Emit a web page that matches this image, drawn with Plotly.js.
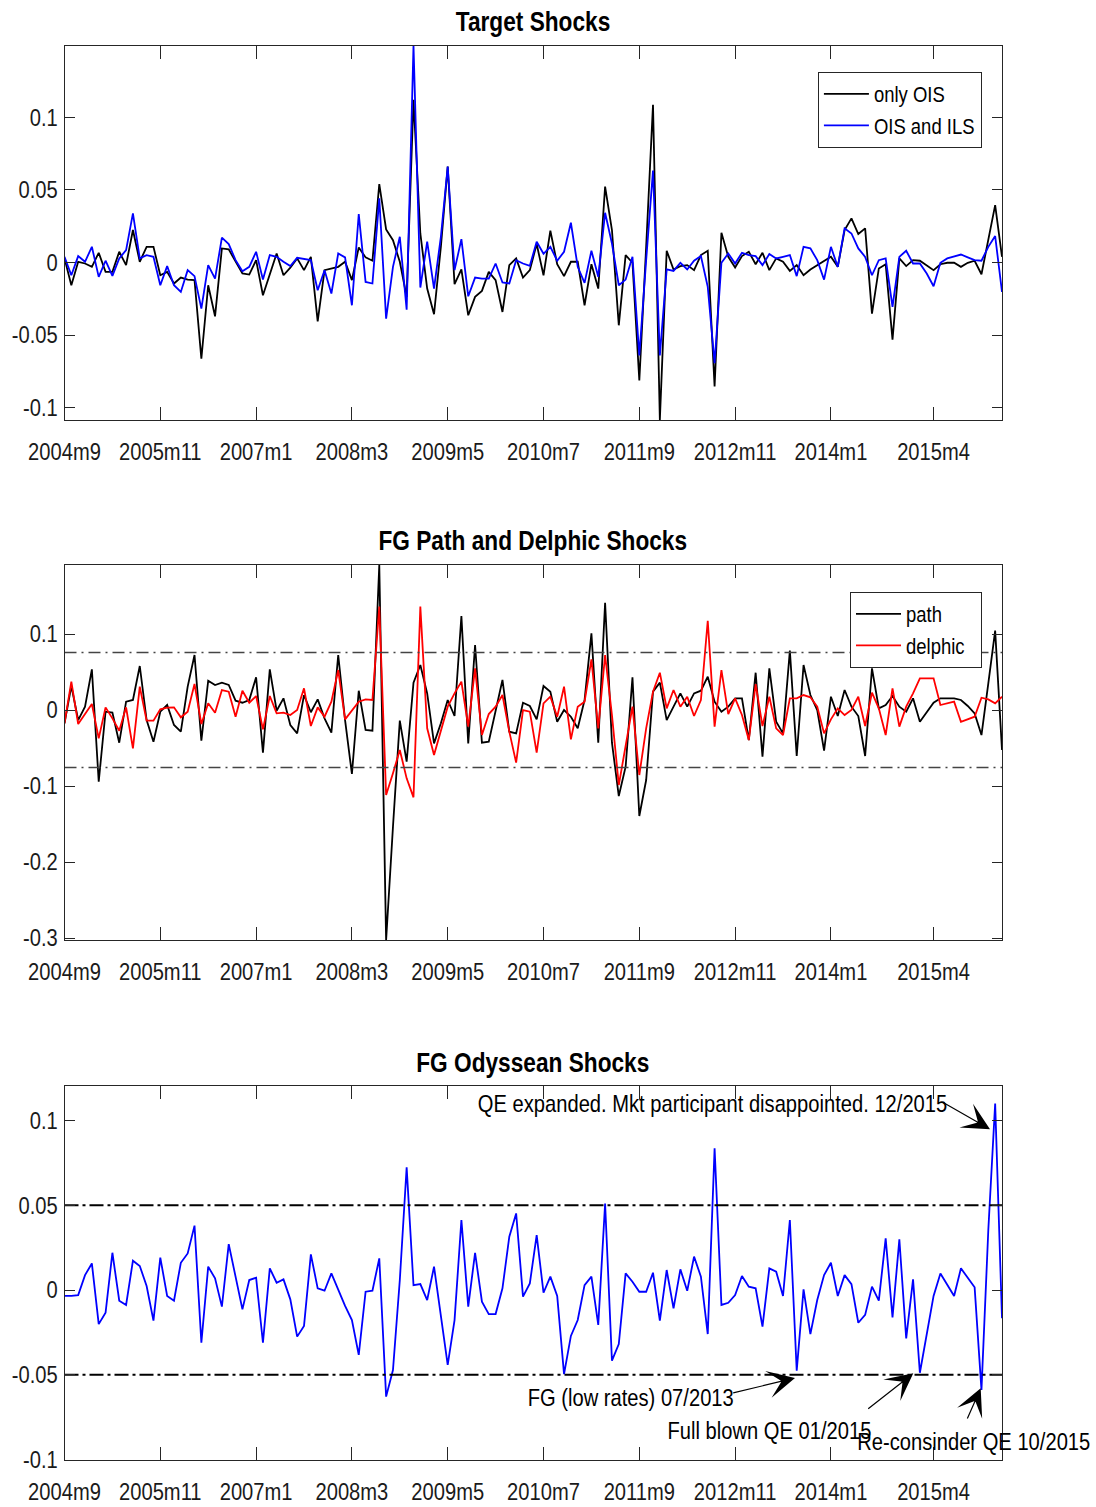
<!DOCTYPE html>
<html>
<head>
<meta charset="utf-8">
<script src="https://cdn.plot.ly/plotly-3.0.1.min.js"></script>
<style>
html,body{margin:0;padding:0;background:#fff;}
#chart{width:1096px;height:1507px;}
</style>
</head>
<body>
<div id="chart"></div>
<script>
// ---- x axis: observation index (ECB meetings) ----
const tickIndex = [1, 15, 29, 43, 57, 71, 85, 99, 113, 128];
const tickLabels = ['2004m9','2005m11','2007m1','2008m3','2009m5','2010m7','2011m9','2012m11','2014m1','2015m4'];
const nObs = 138;

// ---- Panel 1: Target shocks ----
const onlyOIS = [0.0028,-0.0157,0.0005,-0.0007,-0.003,0.0067,-0.0065,-0.0065,0.0074,-0.0018,
0.0224,0.0005,0.0108,0.0108,-0.0088,-0.0065,-0.0145,-0.0104,-0.0118,-0.0122,
-0.0664,-0.0157,-0.0371,0.0097,0.009,0.0005,-0.0076,-0.0083,0.0016,-0.0226,
-0.0076,0.0062,-0.0088,-0.0035,0.0028,-0.0053,0.0039,-0.0406,-0.0053,-0.0041,
-0.003,0.0005,-0.0122,0.0104,0.0035,0.0012,0.0541,0.0228,0.0154,0.0005,
-0.0237,0.1122,0.02,-0.018,-0.0357,0.0108,0.0661,-0.015,-0.0048,-0.0364,
-0.0237,-0.0196,-0.0065,-0.0122,-0.0341,-0.0018,0.0028,-0.0104,-0.0053,0.0127,
-0.0088,0.0219,-0.0012,-0.0094,0.0005,0.0005,-0.0295,-0.0012,-0.018,0.0523,
0.0224,-0.0433,0.0051,-0.0002,-0.0813,0.0108,0.1088,-0.1086,0.0081,-0.0048,
-0.0025,-0.0018,-0.0053,0.0051,0.0081,-0.0855,0.0205,0.0039,-0.0035,0.0044,
0.0074,-0.0012,0.0067,-0.0053,0.0028,0.0005,-0.0058,-0.0018,-0.0088,-0.0048,
-0.0018,0.0012,0.0039,-0.003,0.0224,0.0304,0.0196,0.0235,-0.0353,-0.0041,
-0.0012,-0.0532,0.0028,-0.0025,0.0016,0.0012,-0.0018,-0.0053,-0.0012,-0.0002,
-0.0002,-0.003,-0.0002,0.0012,-0.0081,0.0154,0.0396,0.0039];

const oisAndILS = [0.0039,-0.0088,0.0044,0.0005,0.0108,-0.0099,0.0012,-0.0092,0.0028,0.0085,
0.0339,0.0028,0.0051,0.0039,-0.0157,-0.0025,-0.0157,-0.0203,-0.0053,-0.0094,
-0.0318,-0.0018,-0.0111,0.0171,0.0127,0.0016,-0.006,-0.003,0.0074,-0.0118,
0.0051,0.0039,0.0005,-0.0025,0.0032,0.0023,0.0016,-0.0191,-0.0053,-0.0214,
0.0062,0.0035,-0.0295,0.0334,-0.0134,-0.0145,0.0442,-0.0387,-0.003,0.0177,
-0.0325,0.1496,-0.0173,0.0143,-0.018,0.0177,0.0661,-0.0053,0.0161,-0.0233,
-0.0104,-0.0111,-0.0111,-0.0007,-0.0138,-0.0145,0.0016,-0.0007,-0.0023,0.0143,
0.006,0.0108,0.0012,0.0074,0.0274,-0.003,-0.0141,0.0081,-0.0099,0.0343,
0.0131,-0.0157,-0.0118,0.0039,-0.0641,0.0016,0.0634,-0.0641,-0.0048,-0.0058,
-0.0002,-0.0048,0.0012,0.0044,-0.0168,-0.0694,-0.0002,0.0062,-0.0007,0.0067,
0.0051,0.0044,-0.0018,0.0058,0.0028,0.0039,0.0051,-0.0094,0.0108,0.0097,
0.0016,-0.0118,0.0108,-0.003,0.0235,0.02,0.0097,0.0039,-0.0088,0.0016,
0.0028,-0.0306,0.0039,0.0081,-0.0007,-0.0007,-0.0076,-0.0164,-0.0002,0.0028,
0.0044,0.0055,0.0035,0.0016,0.0012,0.0108,0.0182,-0.0203];

// ---- Panel 2: FG path and Delphic shocks ----
const pathShock = [-0.0175,0.0316,-0.0132,0.0044,0.0535,-0.0943,-0.0022,-0.0035,-0.043,0.011,
0.0132,0.0579,-0.0132,-0.0417,-0.0022,0.0066,-0.0197,-0.0285,0.0307,0.0724,
-0.0404,0.0386,0.0329,0.036,0.0329,0.0123,0.0096,0.0132,0.043,-0.0561,
0.0535,-0.0009,0.0154,-0.0197,-0.0307,0.0197,-0.003,0.014,-0.011,-0.0298,
0.0724,-0.0132,-0.0842,0.0254,-0.0263,-0.0272,0.1908,-0.3026,-0.1535,-0.014,
-0.068,0.036,0.0592,0.0219,-0.0439,-0.0175,0.0132,-0.0079,0.1237,-0.0439,
0.0855,-0.043,-0.0417,-0.0022,0.0395,-0.0285,-0.0307,0.0096,0.0053,-0.0123,
0.0316,0.0241,-0.0154,0,-0.0088,-0.0241,0.0132,0.1009,-0.043,0.1412,
-0.043,-0.1132,-0.0746,0.043,-0.1395,-0.0921,0.0241,0.036,-0.0132,0.0044,
0.0219,0.0044,0.0219,0.0254,0.0439,0.011,-0.0022,0.0044,0.0154,0.0154,
-0.0395,0.0491,-0.0614,0.0548,-0.0154,-0.0307,0.0781,-0.0605,0.0592,0.0197,
0,-0.0535,0.0175,-0.0079,0.0263,0.0044,-0.0079,-0.0605,0.0548,0.0022,
0.0066,0.0184,0.0044,-0.0022,0.0154,-0.0154,-0.0022,0.0096,0.0154,0.0154,
0.0154,0.0132,0.0053,-0.0044,-0.0329,0.0351,0.1044,-0.0526];

const delphicShock = [-0.0175,0.0373,-0.0184,-0.0053,0.0079,-0.0373,0.0035,-0.011,-0.0272,0.0035,
-0.0504,0.0307,-0.014,-0.014,0.0009,0.0031,0.0035,-0.0096,-0.0022,0.0342,
-0.0184,0.0088,-0.0035,0.0263,0.0241,-0.0088,0.0254,0.0096,0.0184,-0.0254,
0.0184,-0.0044,-0.0035,-0.0066,0,0.0285,-0.021,0.0035,-0.0088,0.011,
0.0526,-0.0123,0,0.011,0.014,0.0132,0.136,-0.1118,-0.0833,-0.0526,
-0.0899,-0.1149,0.136,-0.0241,-0.0592,-0.0285,0.0044,0.0219,0.0373,-0.0219,
0.0548,-0.0329,-0.0053,0.0044,0.0197,-0.0285,-0.0693,0,-0.0022,-0.0561,
0.0088,0.0175,-0.0088,0.0307,-0.0386,0.0044,0.011,0.0667,-0.0241,0.0724,
-0.0066,-0.0987,-0.0482,0.0044,-0.0855,-0.0241,0.0241,0.0491,0.0022,0.0263,
0.0044,0.0175,-0.0079,0.0132,0.1175,-0.0219,0.0526,-0.0053,0.0154,-0.0066,
-0.0395,0.0342,-0.0211,0.0175,-0.0241,-0.0329,0.0154,0.0154,0.0197,0.0167,
0.0044,-0.0307,-0.0123,0.0022,-0.0066,0,0.0175,-0.0211,0.0228,0.0022,
-0.0329,0.0285,-0.0219,0.0044,0.0219,0.0417,0.0417,0.0417,0.0066,0.0088,
0.011,-0.0154,-0.0123,-0.0088,0.0162,0.014,0.0088,0.0175];
const bandFG = 0.0757;

// ---- Panel 3: FG Odyssean shocks ----
const odysseanShock = [-0.0035,-0.0035,-0.003,0.0088,0.0157,-0.0201,-0.0134,0.022,-0.0063,-0.0088,
0.0173,0.0142,0.0024,-0.0181,0.0191,-0.0035,-0.0063,0.0161,0.0216,0.038,
-0.0311,0.0138,0.0069,-0.0098,0.0271,0.0079,-0.0114,0.0059,0.0073,-0.0311,
0.0128,0.0043,0.0063,-0.0055,-0.0275,-0.0212,0.021,0.001,-0.0004,0.0098,
0,-0.0094,-0.0177,-0.0383,-0.001,-0.0004,0.0187,-0.0629,-0.0472,0.0059,
0.0724,0.0029,0.0035,-0.0059,0.0138,-0.0138,-0.0442,-0.0177,0.0413,-0.0098,
0.022,-0.0069,-0.0142,-0.0142,0.001,0.0315,0.0452,-0.0039,0.0039,0.0324,
-0.0016,0.0079,-0.0035,-0.0496,-0.0271,-0.0177,0.0029,0.0079,-0.0206,0.0511,
-0.0417,-0.0319,0.0098,0.0049,-0.001,-0.001,0.0102,-0.0181,0.0118,-0.0108,
0.0122,-0.0004,0.0197,0.0079,-0.026,0.0836,-0.0088,-0.0075,-0.003,0.0083,
0.002,0.001,-0.0216,0.0128,0.0108,-0.0035,0.0413,-0.0476,0.0004,-0.026,
-0.0059,0.0088,0.0161,-0.0035,0.0088,0.0035,-0.0193,-0.0147,0.002,-0.0063,
0.0305,-0.0161,0.0299,-0.0285,0.0063,-0.0488,-0.0265,-0.0035,0.0098,0.0029,
-0.0035,0.0128,0.0069,0.0016,-0.059,0.0354,0.1101,-0.0167];
const bandOdy = 0.05;

const yTicks1 = [-0.1,-0.05,0,0.05,0.1], yText1 = ['-0.1','-0.05','0','0.05','0.1'];
const yTicks2 = [-0.3,-0.2,-0.1,0,0.1], yText2 = ['-0.3','-0.2','-0.1','0','0.1'];
const yTicks3 = [-0.1,-0.05,0,0.05,0.1], yText3 = ['-0.1','-0.05','0','0.05','0.1'];

const panelTitles = ['Target Shocks','FG Path and Delphic Shocks','FG Odyssean Shocks'];
const noteTexts = ['QE expanded. Mkt participant disappointed. 12/2015','FG (low rates) 07/2013','Full blown QE 01/2015','Re-consinder QE 10/2015'];

// ---- build ----
const obs = Array.from({length:nObs},(_,i)=>i+1);
const F = '"Liberation Sans", Arial, Helvetica, sans-serif';
const NARROW = 0.84;  // horizontal condensing of text (narrow face look)
const AX = '#262626';
const W = 1096, H = 1507;
const px = v => v / W, py = v => 1 - v / H;
const xDom = [px(64.5), px(1002)];

function xAxis(anchor){
  return {domain:xDom, anchor:anchor, range:[1,nObs], tickmode:'array', tickvals:tickIndex, ticktext:tickLabels,
    tickangle:0, ticks:'inside', ticklen:13, tickwidth:1, tickcolor:AX, showline:true, linecolor:AX, linewidth:1,
    mirror:'ticks', showgrid:false, zeroline:false, ticklabelstandoff:10,
    tickfont:{family:F,size:24,color:'#1a1a1a'}};
}
function yAxis(anchor, dom, rng, tv, tt){
  return {domain:dom, anchor:anchor, range:rng, tickmode:'array', tickvals:tv, ticktext:tt,
    ticks:'inside', ticklen:10, tickwidth:1, tickcolor:AX, showline:true, linecolor:AX, linewidth:1,
    mirror:'ticks', showgrid:false, zeroline:false, ticklabelstandoff:1,
    tickfont:{family:F,size:24,color:'#1a1a1a'}};
}

const traces = [
  {x:obs, y:onlyOIS, type:'scatter', mode:'lines', name:'only OIS', line:{color:'#000000',width:1.8}, xaxis:'x', yaxis:'y', legend:'legend'},
  {x:obs, y:oisAndILS, type:'scatter', mode:'lines', name:'OIS and ILS', line:{color:'#0000ff',width:1.8}, xaxis:'x', yaxis:'y', legend:'legend'},
  {x:obs, y:pathShock, type:'scatter', mode:'lines', name:'path', line:{color:'#000000',width:1.8}, xaxis:'x2', yaxis:'y2', legend:'legend2'},
  {x:obs, y:delphicShock, type:'scatter', mode:'lines', name:'delphic', line:{color:'#ff0000',width:1.8}, xaxis:'x2', yaxis:'y2', legend:'legend2'},
  {x:[1,nObs], y:[bandFG,bandFG], type:'scatter', mode:'lines', showlegend:false, hoverinfo:'skip', line:{color:'#444444',width:1.5,dash:'12px,5px,2px,5px'}, xaxis:'x2', yaxis:'y2'},
  {x:[1,nObs], y:[-bandFG,-bandFG], type:'scatter', mode:'lines', showlegend:false, hoverinfo:'skip', line:{color:'#444444',width:1.5,dash:'12px,5px,2px,5px'}, xaxis:'x2', yaxis:'y2'},
  {x:obs, y:odysseanShock, type:'scatter', mode:'lines', showlegend:false, line:{color:'#0000ff',width:1.8}, xaxis:'x3', yaxis:'y3'},
  {x:[1,nObs], y:[bandOdy,bandOdy], type:'scatter', mode:'lines', showlegend:false, hoverinfo:'skip', line:{color:'#000000',width:2,dash:'14px,4px,3px,4px'}, xaxis:'x3', yaxis:'y3'},
  {x:[1,nObs], y:[-bandOdy,-bandOdy], type:'scatter', mode:'lines', showlegend:false, hoverinfo:'skip', line:{color:'#000000',width:2,dash:'14px,4px,3px,4px'}, xaxis:'x3', yaxis:'y3'}
];

const legendBase = {xref:'paper', yref:'paper', xanchor:'right', yanchor:'top', bgcolor:'#ffffff',
  bordercolor:AX, borderwidth:1, font:{family:F,size:22,color:'#000'}, itemwidth:45, tracegroupgap:0};

const titleCenter = (xDom[0]+xDom[1])/2;
const annotations = [
  {text:panelTitles[0], x:titleCenter, y:py(22)},
  {text:panelTitles[1], x:titleCenter, y:py(541)},
  {text:panelTitles[2], x:titleCenter, y:py(1063)}
].map(a=>Object.assign(a,{xref:'paper',yref:'paper',xanchor:'center',yanchor:'middle',showarrow:false,
  font:{family:F,size:27,color:'#000',weight:'bold'}}));

const notes = [
  {text:noteTexts[0], x:px(712.5), y:py(1103)},
  {text:noteTexts[1], x:px(630), y:py(1397)},
  {text:noteTexts[2], x:px(769.5), y:py(1430)},
  {text:noteTexts[3], x:px(973.5), y:py(1441)}
].map(a=>Object.assign(a,{xref:'paper',yref:'paper',xanchor:'center',yanchor:'middle',showarrow:false,
  font:{family:F,size:24,color:'#000'}}));

const arrows = [
  {x:px(990), y:py(1129.3), ax:-48.3, ay:-27.6},
  {x:px(795), y:py(1378), ax:-63.3, ay:15.3},
  {x:px(913.3), y:py(1373.3), ax:-46.6, ay:36.7},
  {x:px(980.7), y:py(1388.3), ax:-14, ay:31.7}
].map(a=>Object.assign(a,{xref:'paper',yref:'paper',text:'',showarrow:true,arrowhead:3,arrowsize:3.8,
  arrowwidth:1.2,arrowcolor:'#000'}));

const layout = {
  width:W, height:H, margin:{l:0,r:0,t:0,b:0}, paper_bgcolor:'#ffffff', plot_bgcolor:'#ffffff',
  font:{family:F,size:24,color:'#000'}, showlegend:true,
  xaxis:xAxis('y'), xaxis2:xAxis('y2'), xaxis3:xAxis('y3'),
  yaxis:yAxis('x',[py(420),py(45.5)],[-0.1086,0.1496],yTicks1,yText1),
  yaxis2:yAxis('x2',[py(940),py(565)],[-0.3026,0.1908],yTicks2,yText2),
  yaxis3:yAxis('x3',[py(1460),py(1086)],[-0.1003,0.1204],yTicks3,yText3),
  legend:Object.assign({x:px(982), y:py(72)}, legendBase),
  legend2:Object.assign({x:px(982), y:py(592)}, legendBase),
  annotations: annotations.concat(notes, arrows)
};

// Condense rendered text horizontally (no narrow face installed), keeping each text's anchor fixed,
// then tighten each legend box so its right padding matches. Idempotent, so it can be re-run.
const LEGEND_PAD = 7;
function condenseText(){
  const root = document.getElementById('chart');
  root.querySelectorAll('svg text').forEach(t => {
    if (t.getAttribute('data-cond') === '1') return;
    const x = parseFloat(t.getAttribute('x')) || 0;
    const tr = t.getAttribute('transform') || '';
    t.setAttribute('transform', (tr + ' translate(' + x + ',0) scale(' + NARROW + ',1) translate(' + (-x) + ',0)').trim());
    t.setAttribute('data-cond', '1');
  });
  root.querySelectorAll('rect.bg').forEach(bg => {
    const g = bg.parentNode;
    const texts = g.querySelectorAll('text.legendtext');
    if (!texts.length) return;
    let R = -Infinity;
    texts.forEach(t => { R = Math.max(R, t.getBoundingClientRect().right); });
    const b = bg.getBoundingClientRect();
    const delta = (b.right - R) - LEGEND_PAD;
    if (Math.abs(delta) < 0.5) return;
    bg.setAttribute('width', parseFloat(bg.getAttribute('width')) - delta);
    const tr = g.getAttribute('transform') || '';
    const m = tr.match(/translate\(\s*([-\d.e]+)[\s,]+([-\d.e]+)\s*\)/);
    if (m) g.setAttribute('transform', 'translate(' + (parseFloat(m[1]) + delta) + ',' + parseFloat(m[2]) + ')');
  });
}

const gd = document.getElementById('chart');
Plotly.newPlot(gd, traces, layout, {staticPlot:true, displayModeBar:false}).then(() => {
  condenseText();
  let n = 0;
  const timer = setInterval(() => { condenseText(); if (++n > 40) clearInterval(timer); }, 50);
});
</script>
</body>
</html>
